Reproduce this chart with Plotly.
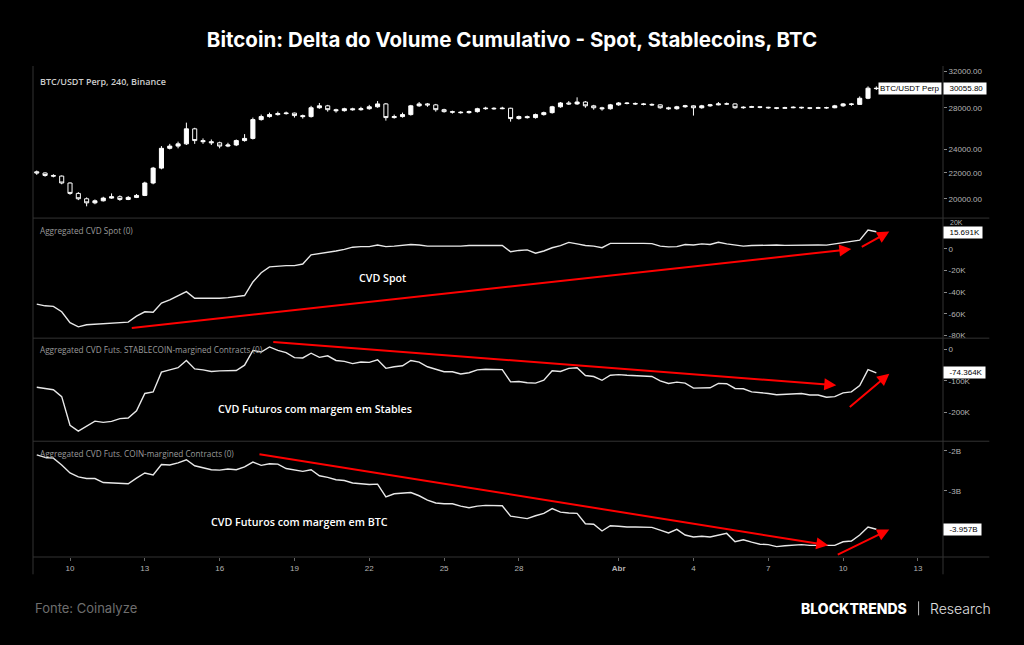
import plotly.graph_objects as go
import pandas as pd
import math

# ---------------- data ----------------
times = pd.date_range("2023-03-08 16:00", periods=102, freq="8h")

price_first_open = 22100
price_close = [22000, 21800, 21750, 21200, 20400, 20000, 19700, 19850, 20050, 20150,
               19950, 20100, 20250, 21200, 22400, 24100, 24300, 24500, 25900, 24800,
               24700, 24600, 24300, 24400, 24800, 25000, 26800, 27100, 27300, 27400,
               27450, 27200, 27100, 28000, 28200, 27800, 27700, 27900, 27800, 27900,
               28100, 28400, 27000, 27100, 27300, 28200, 28400, 28300, 27800, 27600,
               27550, 27500, 27600, 27900, 27950, 27900, 27950, 26900, 27100, 27000,
               27300, 27500, 28100, 28500, 28400, 28600, 28200, 28000, 27900, 28300,
               28500, 28450, 28400, 28350, 28300, 28000, 27900, 28100, 28200, 28000,
               28200, 28300, 28400, 28400, 28000, 28050, 28100, 28050, 28000, 27950,
               28000, 28050, 28000, 27950, 28000, 28000, 28200, 28400, 28350, 29000,
               30100, 30055.8]
price_high = [22200, 22050, 21900, 21800, 21250, 20500, 20100, 19950, 20150, 20400,
              20250, 20200, 20350, 21300, 22500, 24300, 24500, 24700, 26500, 26000,
              25000, 24900, 24700, 24600, 24900, 25400, 27000, 27300, 27500, 27600,
              27600, 27500, 27300, 28200, 28500, 28300, 27900, 28000, 28000, 28100,
              28300, 28700, 28500, 27300, 27500, 28300, 28600, 28500, 28400, 27900,
              27700, 27650, 27700, 28000, 28100, 28050, 28100, 28000, 27200, 27200,
              27400, 27600, 28200, 28600, 28700, 29100, 28700, 28300, 28100, 28400,
              28600, 28600, 28550, 28500, 28450, 28350, 28100, 28200, 28300, 28250,
              28300, 28400, 28600, 28550, 28450, 28150, 28200, 28150, 28100, 28050,
              28100, 28150, 28100, 28050, 28100, 28100, 28300, 28500, 28500, 29200,
              30300, 30300]
price_low = [21850, 21700, 21650, 21100, 20300, 19900, 19450, 19600, 19800, 20000,
             19850, 19900, 20050, 20200, 21100, 22300, 24000, 24100, 24400, 24500,
             24500, 24400, 24100, 24200, 24300, 24700, 24900, 26700, 27000, 27200,
             27300, 27000, 26900, 27000, 27900, 27600, 27500, 27600, 27700, 27700,
             27800, 28000, 26700, 26900, 27000, 27200, 28100, 28100, 27600, 27500,
             27400, 27400, 27400, 27500, 27800, 27800, 27850, 26600, 26800, 26900,
             26900, 27200, 27400, 28000, 28300, 28300, 28000, 27800, 27700, 27800,
             28200, 28350, 28300, 28250, 28200, 27900, 27800, 27800, 28000, 27200,
             27900, 28100, 28250, 28300, 27900, 27900, 28000, 27950, 27900, 27850,
             27900, 27950, 27900, 27850, 27900, 27900, 27950, 28100, 28200, 28300,
             28900, 29900]
price_open = [price_first_open] + price_close[:-1]

cvd_spot_k = [-51, -52.5, -53, -58, -68, -71.9, -70, -69.5, -69, -68.5,
              -68, -67.5, -62, -58, -58.5, -50, -47, -43, -39.5, -45.5,
              -45.5, -45.7, -45.5, -45, -44, -43, -30.5, -22, -16.6, -16,
              -15.5, -15.5, -14, -5.5, -4.5, -3.5, -2, -0.5, 1.5, 2,
              2, 3.5, 2, 2.5, 3, 4, 3.5, 2.5, 2.5, 2.5,
              2.0, 2.5, 3, 3, 3.2, 3, 3.2, -2.7, -1.5, -1.0,
              -4, -2, 1, 3, 5.9, 4.5, 3, 2.5, 1, 5,
              5.2, 5, 5, 5, 4.8, 2.5, 1.8, 2, 4, 3.5,
              4.5, 4, 6, 4.5, 3.5, 2.5, 3, 3.3, 3.2, 3.5,
              3.2, 3.4, 3.5, 3.3, 3.5, 3.4, 4.5, 5.5, 6.5, 8,
              17.2, 15.691]

cvd_stable_k = [-120, -125, -128, -150, -241, -260, -243, -228, -232, -229,
                -220, -218, -195, -140, -135, -72, -65, -58, -35, -62,
                -65, -70, -68, -68, -67, -50, -3, -8, 8, -3,
                -10, -26, -27, -12, -25, -20, -35, -38, -45, -40,
                -41, -33, -60, -55, -52, -35, -40, -55, -62, -71,
                -71, -78, -74, -65, -63, -63, -64, -103, -102, -106,
                -107, -98, -68, -70, -60, -58, -83, -86, -98, -82,
                -80, -82, -84, -85, -86, -100, -108, -104, -107, -123,
                -123, -122, -108, -109, -124, -125, -135, -137, -140, -144,
                -142, -141, -140, -145, -145, -152, -150, -138, -135, -115,
                -64, -74.364]

cvd_coin_b = [-2.1, -2.16, -2.18, -2.35, -2.55, -2.65, -2.69, -2.69, -2.79, -2.8,
              -2.81, -2.82, -2.68, -2.55, -2.6, -2.34, -2.35, -2.3, -2.22, -2.37,
              -2.42, -2.47, -2.48, -2.45, -2.47, -2.4, -2.28, -2.36, -2.32, -2.33,
              -2.44, -2.48, -2.51, -2.47, -2.62, -2.66, -2.72, -2.74, -2.8, -2.82,
              -2.84, -2.83, -3.15, -3.07, -3.05, -3.04, -3.12, -3.23, -3.3, -3.32,
              -3.32, -3.38, -3.42, -3.38, -3.36, -3.36, -3.37, -3.63, -3.66, -3.69,
              -3.62, -3.56, -3.44, -3.53, -3.55, -3.56, -3.82, -3.83, -4.0, -3.87,
              -3.88, -3.9, -3.9, -3.9, -3.91, -3.98, -4.05, -3.96, -4.1, -4.15,
              -4.13, -4.15, -4.1, -4.06, -4.27, -4.22, -4.28, -4.33, -4.34, -4.39,
              -4.37, -4.35, -4.34, -4.36, -4.36, -4.37, -4.36, -4.27, -4.25, -4.1,
              -3.9, -3.957]

x_tickvals = ["2023-03-10", "2023-03-13", "2023-03-16", "2023-03-19", "2023-03-22",
              "2023-03-25", "2023-03-28", "2023-04-01", "2023-04-04", "2023-04-07",
              "2023-04-10", "2023-04-13"]
x_ticktext = ["10", "13", "16", "19", "22", "25", "28", "<b>Abr</b>", "4", "7", "10", "13"]

price_ticks = [20000, 22000, 24000, 28000, 32000]
price_ticktext = ["20000.00", "22000.00", "24000.00", "28000.00", "32000.00"]
spot_ticks = [20, 0, -20, -40, -60, -80]
spot_ticktext = ["", "0", "-20K", "-40K", "-60K", "-80K"]
spot_top_label = "20K"
stable_ticks = [0, -100, -200]
stable_ticktext = ["0", "-100K", "-200K"]
coin_ticks = [-2, -3]
coin_ticktext = ["-2B", "-3B"]

# ---------------- layout helpers ----------------
W, H = 1024, 645
L, R, T, B = 33, 942.7, 65, 556.7


def px(X):
    return (X - L) / (R - L)


def py(Y):
    return (B - Y) / (B - T)


BG = "#000000"
AXC = "#b4b4b4"
SEP = "#333333"
TICKF = dict(family="Liberation Sans, Arial", size=8, color=AXC)

fig = go.Figure()

fig.add_trace(go.Candlestick(
    x=times, open=price_open, high=price_high, low=price_low, close=price_close,
    xaxis="x", yaxis="y",
    increasing=dict(fillcolor="#ffffff", line=dict(color="#ffffff", width=1)),
    decreasing=dict(fillcolor="#000000", line=dict(color="#ffffff", width=1)),
    whiskerwidth=0, showlegend=False, hoverinfo="skip"))

line_style = dict(color="#e8e8e8", width=1.4)
fig.add_trace(go.Scatter(x=times, y=cvd_spot_k, mode="lines", line=line_style,
                         xaxis="x", yaxis="y2", showlegend=False, hoverinfo="skip"))
fig.add_trace(go.Scatter(x=times, y=cvd_stable_k, mode="lines", line=line_style,
                         xaxis="x", yaxis="y3", showlegend=False, hoverinfo="skip"))
fig.add_trace(go.Scatter(x=times, y=cvd_coin_b, mode="lines", line=line_style,
                         xaxis="x", yaxis="y4", showlegend=False, hoverinfo="skip"))

yax_common = dict(side="right", anchor="x", showgrid=False, zeroline=False,
                  ticks="outside", ticklen=3, tickcolor="#888888", tickfont=TICKF,
                  showline=False, fixedrange=True)

fig.update_layout(
    width=W, height=H,
    paper_bgcolor=BG, plot_bgcolor=BG,
    margin=dict(l=L, r=W - R, t=T, b=H - B),
    title=dict(text="<b>Bitcoin: Delta do Volume Cumulativo - Spot, Stablecoins, BTC</b>",
               x=0.5, xref="container", xanchor="center",
               y=1 - 40 / H, yref="container", yanchor="middle",
               font=dict(family="Inter, Open Sans, sans-serif", size=20.5, color="#ffffff")),
    xaxis=dict(domain=[0, 1], anchor="y4", type="date",
               range=["2023-03-08 12:23", "2023-04-14 00:09"],
               tickvals=x_tickvals, ticktext=x_ticktext,
               ticks="outside", ticklen=3, tickcolor="#666666",
               tickfont=TICKF, showgrid=False, zeroline=False, showline=False,
               rangeslider=dict(visible=False), fixedrange=True),
    yaxis=dict(domain=[py(218), 1], type="log",
               range=[4.2700, 4.5158], tickvals=price_ticks, ticktext=price_ticktext,
               **yax_common),
    yaxis2=dict(domain=[py(338), py(218)], range=[-82.3, 28.29],
                tickvals=spot_ticks, ticktext=spot_ticktext, **yax_common),
    yaxis3=dict(domain=[py(441), py(338)], range=[-292, 36],
                tickvals=stable_ticks, ticktext=stable_ticktext, **yax_common),
    yaxis4=dict(domain=[0, py(441)], range=[-4.65, -1.7575],
                tickvals=coin_ticks, ticktext=coin_ticktext, **yax_common),
)

shapes = []
# pane separators
for Y in [218, 338, 441, B]:
    shapes.append(dict(type="line", xref="paper", yref="paper",
                       x0=px(33), x1=px(989), y0=py(Y), y1=py(Y),
                       line=dict(color=SEP, width=1)))
# vertical borders
for X in [33, R]:
    shapes.append(dict(type="line", xref="paper", yref="paper",
                       x0=px(X), x1=px(X), y0=py(66), y1=py(574),
                       line=dict(color=SEP, width=1)))
# brand separator bar
shapes.append(dict(type="line", xref="paper", yref="paper",
                   x0=px(918.3), x1=px(918.3), y0=py(601), y1=py(615),
                   line=dict(color="#bbbbbb", width=1)))
fig.update_layout(shapes=shapes)

ann = []
# pane titles
pane_titles = [
    ("BTC/USDT Perp, 240, Binance", 81, "#cccccc", 9, 600),
    ("Aggregated CVD Spot (0)", 230.7, "#9a9a9a", 8.2, 400),
    ("Aggregated CVD Futs. STABLECOIN-margined Contracts (0)", 349.3, "#9a9a9a", 8.2, 400),
    ("Aggregated CVD Futs. COIN-margined Contracts (0)", 453.3, "#9a9a9a", 8.2, 400),
]
for txt, Y, col, sz, wt in pane_titles:
    ann.append(dict(text=txt, xref="paper", yref="paper", x=px(38), y=py(Y),
                    xanchor="left", yanchor="middle", showarrow=False,
                    font=dict(family="Open Sans, sans-serif", size=sz, color=col, weight=wt)))

# top spot-axis label, placed just above the last-value box
ann.append(dict(text=spot_top_label, xref="paper", yref="paper", x=1, y=py(222),
                xanchor="left", yanchor="middle", xshift=5, showarrow=False,
                font=dict(family="Liberation Sans, Arial", size=7, color=AXC)))

# last-value boxes
box_font = dict(family="Liberation Sans, Arial", size=8, color="#000000")
ann.append(dict(text="BTC/USDT Perp", xref="paper", yref="y", x=1, y=math.log10(price_close[-1]),
                xanchor="right", yanchor="middle", showarrow=False, xshift=-1,
                bgcolor="#ffffff", borderpad=1, font=box_font))
ann.append(dict(text="  %.2f " % price_close[-1], xref="paper", yref="y", x=1,
                y=math.log10(price_close[-1]), xanchor="left", yanchor="middle",
                showarrow=False, bgcolor="#ffffff", borderpad=1, font=box_font))
ann.append(dict(text="  %.3fK " % cvd_spot_k[-1], xref="paper", yref="y2", x=1, y=cvd_spot_k[-1],
                xanchor="left", yanchor="middle", showarrow=False, yshift=-1,
                bgcolor="#ffffff", borderpad=1, font=box_font))
ann.append(dict(text="  %.3fK " % cvd_stable_k[-1], xref="paper", yref="y3", x=1, y=cvd_stable_k[-1],
                xanchor="left", yanchor="middle", showarrow=False,
                bgcolor="#ffffff", borderpad=1, font=box_font))
ann.append(dict(text="  %.3fB " % cvd_coin_b[-1], xref="paper", yref="y4", x=1, y=cvd_coin_b[-1],
                xanchor="left", yanchor="middle", showarrow=False,
                bgcolor="#ffffff", borderpad=1, font=box_font))

# in-chart labels
lbl_font = dict(family="Open Sans, sans-serif", size=10.7, color="#ffffff", weight=600)
for txt, X, Y in [("CVD Spot", 382.3, 278.3),
                  ("CVD Futuros com margem em Stables", 315, 409),
                  ("CVD Futuros com margem em BTC", 299.3, 521.5)]:
    ann.append(dict(text=txt, xref="paper", yref="paper", x=px(X), y=py(Y),
                    xanchor="center", yanchor="middle", showarrow=False, font=lbl_font))

# red trend arrows (tail -> head, pixel positions)
arrows = [((130, 328), (851, 249)),
          ((860, 247.5), (889, 231.5)),
          ((271.5, 341.7), (836, 385)),
          ((848, 408), (889, 373.5)),
          ((257.7, 453.7), (828, 545)),
          ((836, 555), (889, 529.3))]
for (tx, ty), (hx, hy) in arrows:
    ann.append(dict(text="", xref="paper", yref="paper",
                    x=px(hx), y=py(hy), ax=tx - hx, ay=ty - hy, showarrow=True,
                    arrowhead=2, arrowsize=1.2, arrowwidth=2, arrowcolor="#ff0000",
                    standoff=0, startstandoff=0))

# footer
ann.append(dict(text="Fonte: Coinalyze", xref="paper", yref="paper", x=px(33), y=py(607.5),
                xanchor="left", yanchor="middle", showarrow=False,
                font=dict(family="Inter, Open Sans, sans-serif", size=13, color="#6e6e6e")))
ann.append(dict(text="BLOCKTRENDS", xref="paper", yref="paper", x=px(909), y=py(608),
                xanchor="right", yanchor="middle", showarrow=False,
                font=dict(family="Inter, Open Sans, sans-serif", size=14, color="#ffffff", weight=800)))
ann.append(dict(text="Research", xref="paper", yref="paper", x=px(927.5), y=py(608),
                xanchor="left", yanchor="middle", showarrow=False,
                font=dict(family="Inter, Open Sans, sans-serif", size=14, color="#e0e0e0", weight=300)))

fig.update_layout(annotations=ann)

fig.write_html("out.html")
